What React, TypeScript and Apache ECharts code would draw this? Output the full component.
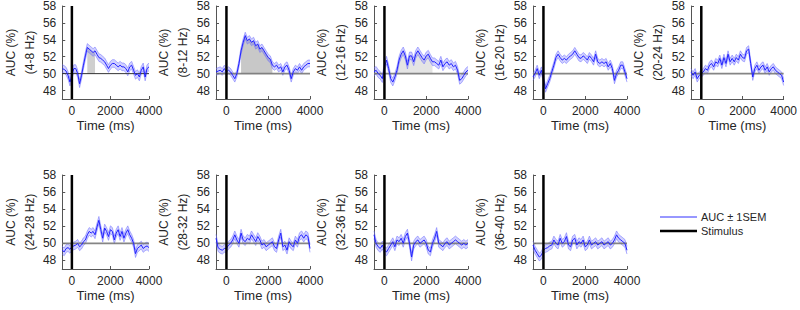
import React, { useEffect, useRef } from "react";
import * as echarts from "echarts";

// Sampling grid (ms)
const TIMES = [
  -500, -400, -300, -200, -100, 0, 100, 200, 300, 400, 500, 600, 700, 800, 900, 1000,
  1100, 1200, 1300, 1400, 1500, 1600, 1700, 1800, 1900, 2000, 2100, 2200, 2300, 2400,
  2500, 2600, 2700, 2800, 2900, 3000, 3100, 3200, 3300, 3400, 3500, 3600, 3700, 3800,
  3900, 4000,
];

const BANDS = ["4-8 Hz", "8-12 Hz", "12-16 Hz", "16-20 Hz", "20-24 Hz", "24-28 Hz", "28-32 Hz", "32-36 Hz", "36-40 Hz"];

const AUC_4_8 = [50.6,50.5,50.3,49.8,49.0,49.8,50.6,50.6,50.0,48.8,49.8,51.0,52.1,53.1,52.9,52.7,52.5,52.7,52.3,51.9,51.8,51.6,51.4,51.0,50.6,51.0,51.2,51.2,51.0,50.8,51.0,50.8,50.8,50.6,50.2,50.8,51.0,50.4,49.8,50.0,49.6,50.4,50.8,49.6,50.6,50.8];
const AUC_8_12 = [50.2,50.3,50.4,50.2,50.6,50.2,50.4,50.2,49.8,49.4,50.0,51.2,52.7,53.7,54.5,53.9,54.1,53.7,53.9,53.3,53.5,52.9,53.1,52.7,52.3,51.9,51.7,51.0,50.8,51.0,50.6,50.8,50.2,50.8,51.0,50.4,49.4,50.2,50.6,50.4,50.8,50.4,50.8,51.0,51.2,51.2];
const AUC_12_16 = [50.2,50.4,50.0,49.8,49.4,50.8,51.6,50.6,49.4,49.0,49.6,50.4,51.6,52.3,52.7,52.1,51.0,52.1,52.1,51.4,52.3,52.7,52.3,51.9,51.6,52.1,52.3,51.8,51.4,51.4,51.2,51.0,51.6,50.8,51.2,51.4,51.0,51.2,50.8,51.0,50.4,49.2,49.4,49.8,50.2,50.4];
const AUC_16_20 = [49.6,50.0,50.6,49.8,50.4,49.4,48.2,48.8,49.4,50.2,51.0,51.9,52.3,51.9,51.6,51.8,51.6,51.9,52.1,52.3,52.7,52.3,51.9,51.8,52.1,51.9,51.6,52.1,51.8,51.4,52.3,51.4,51.2,51.4,51.2,51.4,50.8,51.2,50.6,49.2,50.0,50.4,51.0,51.0,50.2,49.4];
const AUC_20_24 = [50.2,49.8,50.2,49.4,49.8,50.0,50.2,50.6,50.4,51.0,51.2,50.8,51.4,51.2,51.8,51.0,51.9,51.2,52.3,51.4,51.8,51.4,51.9,51.6,52.3,51.9,51.8,52.7,52.9,51.2,49.6,50.6,51.0,50.4,50.8,51.0,50.4,50.8,50.2,50.6,50.8,50.4,50.2,50.0,49.8,49.0];
const AUC_24_28 = [49.2,49.0,49.4,49.5,49.3,49.6,49.7,49.8,50.0,49.6,49.8,50.2,50.4,51.0,51.4,51.2,51.4,51.0,51.9,52.7,51.6,50.6,51.8,51.4,50.8,51.6,51.4,50.4,51.2,51.6,50.8,51.4,50.6,51.2,51.6,51.0,50.6,50.0,48.8,49.4,49.6,49.8,49.4,49.6,49.7,49.5];
const AUC_28_32 = [50.6,49.5,49.3,49.2,49.4,49.4,49.8,50.0,50.4,51.0,50.4,50.0,51.2,50.4,50.2,50.6,50.4,51.0,50.6,50.2,50.8,50.4,49.8,50.0,49.6,49.8,50.0,50.2,49.6,49.4,50.4,51.2,49.6,49.8,49.2,50.2,49.8,49.6,50.4,50.0,50.8,51.0,50.6,51.0,50.8,49.4];
const AUC_32_36 = [51.0,50.0,49.6,49.4,49.8,49.2,49.0,49.4,49.8,50.2,49.6,50.4,50.2,50.6,50.0,50.8,51.2,50.0,48.4,49.8,50.2,50.4,50.0,50.2,50.4,50.0,49.2,49.0,50.0,50.6,51.4,50.0,49.8,49.6,50.0,50.2,49.8,50.0,50.2,50.4,50.2,50.0,49.8,50.0,49.8,50.0];
const AUC_36_40 = [49.8,49.2,48.8,48.4,48.6,49.2,49.4,49.5,49.7,49.8,50.4,50.0,49.8,50.6,50.0,50.2,50.8,49.8,49.6,50.4,50.6,49.8,50.2,50.0,50.4,49.6,49.8,50.4,49.8,50.0,50.2,49.8,50.0,50.2,49.8,50.0,50.2,49.8,50.0,50.4,51.0,50.6,50.4,50.2,50.0,49.2];

const AUC_SERIES = [AUC_4_8, AUC_8_12, AUC_12_16, AUC_16_20, AUC_20_24, AUC_24_28, AUC_28_32, AUC_32_36, AUC_36_40];

// Standard error of the mean per panel (%)
const SEM = [0.45, 0.4, 0.45, 0.4, 0.4, 0.45, 0.45, 0.45, 0.45];

// Significant time windows (ms) per panel
const SIG_WINDOWS: number[][][] = [
  [[800, 1200]],
  [[700, 2200]],
  [[600, 2300]],
  [],
  [],
  [],
  [],
  [],
  [],
];

const X_TICKS = [0, 2000, 4000];
const Y_TICKS = [48, 50, 52, 54, 56, 58];
const CHANCE = 50;
const STIM_TIME = 0;

// Layout & styles
const LEFTS = [55, 216, 374, 533, 691];
const TOPS = [5, 175];
const W = 94;
const H = 94;
const FONT = "Liberation Sans, Arial, Helvetica, sans-serif";
const TXT = "#262626";
const SIG_COLORS = ["#cfcfcf", "#c8c8c8", "#e4e4e4", "#d0d0d0", "#d0d0d0", "#d0d0d0", "#d0d0d0", "#d0d0d0", "#d0d0d0"];

export default function App() {
  const ref = useRef<HTMLDivElement>(null);

  useEffect(() => {
    if (!ref.current) return;
    const chart = echarts.init(ref.current, undefined, { renderer: "svg" });

    const grid: any[] = [];
    const xAxis: any[] = [];
    const yAxis: any[] = [];
    const series: any[] = [];

    AUC_SERIES.forEach((vals, i) => {
      const row = i < 5 ? 0 : 1;
      const col = i % 5;
      grid.push({ left: LEFTS[col], top: TOPS[row], width: W, height: H, containLabel: false });
      xAxis.push({
        gridIndex: i,
        type: "value",
        min: -500,
        max: 4000,
        axisLine: { show: true, onZero: false, lineStyle: { color: "#555", width: 1 } },
        axisTick: { show: true, inside: true, length: 3, customValues: X_TICKS, lineStyle: { color: "#555" } },
        axisLabel: {
          customValues: X_TICKS,
          formatter: (v: number) => String(v),
          margin: 6,
          fontSize: 12,
          color: TXT,
          fontFamily: FONT,
        },
        splitLine: { show: false },
        name: "Time (ms)",
        nameLocation: "middle",
        nameGap: 20,
        nameTextStyle: { fontSize: 13, color: TXT, fontFamily: FONT },
      });
      yAxis.push({
        gridIndex: i,
        type: "value",
        min: 47,
        max: 58,
        axisLine: { show: true, onZero: false, lineStyle: { color: "#555", width: 1 } },
        axisTick: { show: true, inside: true, length: 3, customValues: Y_TICKS, lineStyle: { color: "#555" } },
        axisLabel: { customValues: Y_TICKS, margin: 6, fontSize: 12, color: TXT, fontFamily: FONT },
        splitLine: { show: false },
        name: `AUC (%)\n(${BANDS[i]})`,
        nameLocation: "middle",
        nameRotate: 90,
        nameGap: 22,
        nameTextStyle: { fontSize: 12, lineHeight: 19, color: TXT, fontFamily: FONT },
      });

      const sem = SEM[i];
      // significance fill
      SIG_WINDOWS[i].forEach(([s, e]) => {
        series.push({
          type: "line",
          xAxisIndex: i,
          yAxisIndex: i,
          symbol: "none",
          silent: true,
          data: TIMES.map((t, k) => [t, vals[k]]).filter((p) => p[0] >= s && p[0] <= e),
          lineStyle: { width: 0 },
          areaStyle: { origin: CHANCE, color: SIG_COLORS[i], opacity: 1 },
          z: 1,
        });
      });
      // SEM band (mean ± 1 SEM)
      series.push({
        type: "custom",
        xAxisIndex: i,
        yAxisIndex: i,
        silent: true,
        data: [[0, CHANCE]],
        z: 2,
        renderItem: (_params: any, api: any) => {
          const upper = TIMES.map((t, k) => api.coord([t, vals[k] + sem]));
          const lower = TIMES.map((t, k) => api.coord([t, vals[k] - sem]));
          return {
            type: "group",
            children: [
              {
                type: "polygon",
                shape: { points: upper.concat(lower.slice().reverse()) },
                style: { fill: "rgba(70,70,255,0.25)", stroke: "none" },
              },
              {
                type: "polyline",
                shape: { points: upper },
                style: { fill: "none", stroke: "rgba(110,110,255,0.75)", lineWidth: 0.7 },
              },
              {
                type: "polyline",
                shape: { points: lower },
                style: { fill: "none", stroke: "rgba(110,110,255,0.75)", lineWidth: 0.7 },
              },
            ],
          };
        },
      });
      // chance line
      series.push({
        type: "line",
        xAxisIndex: i,
        yAxisIndex: i,
        symbol: "none",
        silent: true,
        data: [[-500, CHANCE], [4000, CHANCE]],
        lineStyle: { color: i === 0 ? "#333" : "rgba(120,120,120,0.9)", width: i === 0 ? 1 : 1.6 },
        z: 3,
      });
      // mean
      series.push({
        name: "AUC ± 1SEM",
        type: "line",
        xAxisIndex: i,
        yAxisIndex: i,
        symbol: "none",
        data: TIMES.map((t, k) => [t, vals[k]]),
        lineStyle: { color: "#2020ff", width: 1 },
        itemStyle: { color: "#2020ff" },
        z: 4,
      });
      // stimulus
      series.push({
        name: "Stimulus",
        type: "line",
        xAxisIndex: i,
        yAxisIndex: i,
        symbol: "none",
        data: [[STIM_TIME, 47], [STIM_TIME, 58]],
        lineStyle: { color: "#000", width: 2.5 },
        itemStyle: { color: "#000" },
        z: 5,
      });
    });

    chart.setOption({
      animation: false,
      backgroundColor: "#ffffff",
      textStyle: { fontFamily: FONT },
      grid,
      xAxis,
      yAxis,
      series,
      graphic: [
        { type: "line", shape: { x1: 660, y1: 217, x2: 697, y2: 217 }, style: { stroke: "#3030ff", lineWidth: 1 } },
        { type: "text", x: 701, y: 217, style: { text: "AUC ± 1SEM", fontSize: 11, fill: TXT, fontFamily: FONT, verticalAlign: "middle" } },
        { type: "line", shape: { x1: 660, y1: 231, x2: 697, y2: 231 }, style: { stroke: "#000", lineWidth: 2.5 } },
        { type: "text", x: 701, y: 231, style: { text: "Stimulus", fontSize: 11, fill: TXT, fontFamily: FONT, verticalAlign: "middle" } },
      ],
    });

    return () => chart.dispose();
  }, []);

  return (
    <div
      ref={ref}
      style={{ position: "fixed", left: 0, top: 0, width: 800, height: 310, background: "#fff" }}
    />
  );
}
